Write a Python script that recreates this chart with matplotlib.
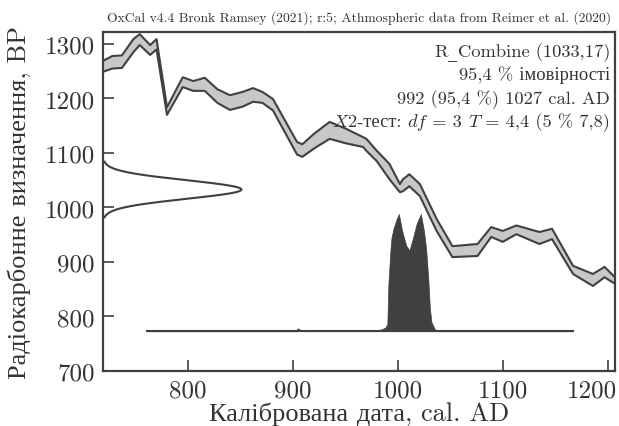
"""OxCal-style calibration plot: R_Combine (1033,17) against IntCal20 curve"""
import matplotlib
matplotlib.use("Agg")
import matplotlib.pyplot as plt
import matplotlib.transforms as mtransforms
import numpy as np

plt.rcParams["font.family"] = ["cmr10", "Liberation Serif"]
plt.rcParams["mathtext.fontset"] = "cm"

# --- calibration curve band (cal AD vs radiocarbon BP) ---
curve_year = [719, 728, 737, 748, 754, 764, 770, 780, 795, 805, 816, 828, 840, 852,
              862, 871, 881, 904, 909, 920, 935, 950, 967, 970, 980, 992, 1002, 1005,
              1011, 1021, 1037, 1052, 1076, 1089, 1100, 1113, 1135, 1147, 1167, 1186,
              1197, 1207]
curve_upper = [1269, 1278, 1279, 1309, 1318, 1298, 1309, 1184, 1239, 1232, 1238, 1217,
               1206, 1212, 1219, 1212, 1199, 1120, 1116, 1135, 1157, 1145, 1129, 1126,
               1104, 1080, 1043, 1052, 1061, 1043, 979, 929, 933, 964, 957, 967, 955,
               961, 893, 878, 891, 872]
curve_lower = [1249, 1255, 1256, 1285, 1298, 1280, 1290, 1170, 1221, 1214, 1214, 1192,
               1179, 1185, 1194, 1192, 1178, 1097, 1093, 1108, 1126, 1118, 1111, 1104,
               1085, 1052, 1028, 1030, 1039, 1021, 957, 909, 911, 946, 937, 951, 933,
               942, 878, 856, 872, 860]

# --- radiocarbon measurement ---
r_mean, r_sigma = 1033, 17

# --- calibrated probability (relative) ---
cal_year = [761, 900, 903, 905, 907, 910, 978, 984, 988, 990, 991, 993, 994, 996, 999,
            1001, 1004, 1008, 1011, 1014, 1018, 1022, 1025, 1027, 1029, 1030.5, 1032,
            1035, 1037, 1167]
cal_prob = [0, 0, 0.01, 0.025, 0.01, 0, 0.005, 0.015, 0.03, 0.06, 0.4, 0.7, 0.8, 0.88,
            0.96, 1.0, 0.86, 0.73, 0.69, 0.78, 0.92, 1.0, 0.85, 0.7, 0.45, 0.2, 0.08,
            0.02, 0, 0]

ROM = ["cmr10", "Liberation Serif"]
ITA = ["cmmi10", "Liberation Serif"]
notes = [
    [("R", ROM), ("_", ["DejaVu Serif"]), ("Combine (1033,17)", ROM)],
    [("95,4 % імовірності", ROM)],
    [("992 (95,4 %) 1027 cal. AD", ROM)],
    [("X", ITA), ("2-тест: ", ROM), ("df", ITA), (" = 3 ", ROM), ("T", ITA),
     (" = 4,4 (5 % 7,8)", ROM)],
]

dark = "#404040"
band = "#c8c8c8"
txt = "#333333"

fig = plt.figure(figsize=(6.19, 4.27), dpi=100)
ax = fig.add_axes([103 / 619, 55 / 427, 512 / 619, 339 / 427])

ax.fill_between(curve_year, curve_lower, curve_upper, color=band, lw=0)
ax.plot(curve_year, curve_upper, color=dark, lw=1.5)
ax.plot(curve_year, curve_lower, color=dark, lw=1.5)

# measurement on the y axis
xmin, xmax = 719, 1207
yy = np.linspace(r_mean - 3 * r_sigma, r_mean + 3 * r_sigma, 200)
ax.plot(xmin + 132 * np.exp(-0.5 * ((yy - r_mean) / r_sigma) ** 2), yy, color=dark, lw=1.5)

# calibrated distribution on baseline
base, height = 773, 215
ax.fill_between(cal_year, base, base + height * np.array(cal_prob), color=dark, lw=0.5,
                edgecolor=dark)
ax.plot([cal_year[0], cal_year[-1]], [base, base], color=dark, lw=1.5)

ax.set_xlim(xmin, xmax)
ax.set_ylim(700, 1322)
ax.set_xticks([800, 900, 1000, 1100, 1200])
ax.set_yticks([700, 800, 900, 1000, 1100, 1200, 1300])
ax.tick_params(direction="in", length=8, width=1.2, color=dark, labelsize=18,
               labelcolor=txt, pad=6)
for sp in ax.spines.values():
    sp.set_color(dark)
    sp.set_linewidth(1.6)
# keep the last x label inside the figure
last = ax.get_xticklabels()[-1]
last.set_transform(last.get_transform()
                   + mtransforms.ScaledTranslation(-0.16, 0, fig.dpi_scale_trans))

ax.set_xlabel("Калібрована дата, cal. AD", fontsize=19, color=txt, labelpad=0)
ax.set_ylabel("Радіокарбонне визначення, BP", fontsize=19, color=txt)
ax.yaxis.set_label_coords(-0.14, 0.5)
ax.set_title("OxCal v4.4 Bronk Ramsey (2021); r:5; Athmospheric data from Reimer et al. (2020)",
             fontsize=9.8, color=txt, pad=8)

# right-aligned info lines, built from pieces so each can have its own font
renderer = fig.canvas.get_renderer()
right_px = 610
for i, pieces in enumerate(notes):
    base_px = 427 - (57 + i * 23.5)
    items = [fig.text(0, 0, s, family=fam, fontsize=13.3, color=txt, ha="left",
                      va="baseline", transform=mtransforms.IdentityTransform())
             for s, fam in pieces]
    widths = [t.get_window_extent(renderer).width for t in items]
    cur = right_px - sum(widths)
    for t, w in zip(items, widths):
        t.set_position((cur, base_px))
        cur += w

plt.savefig("out.png", dpi=100)
